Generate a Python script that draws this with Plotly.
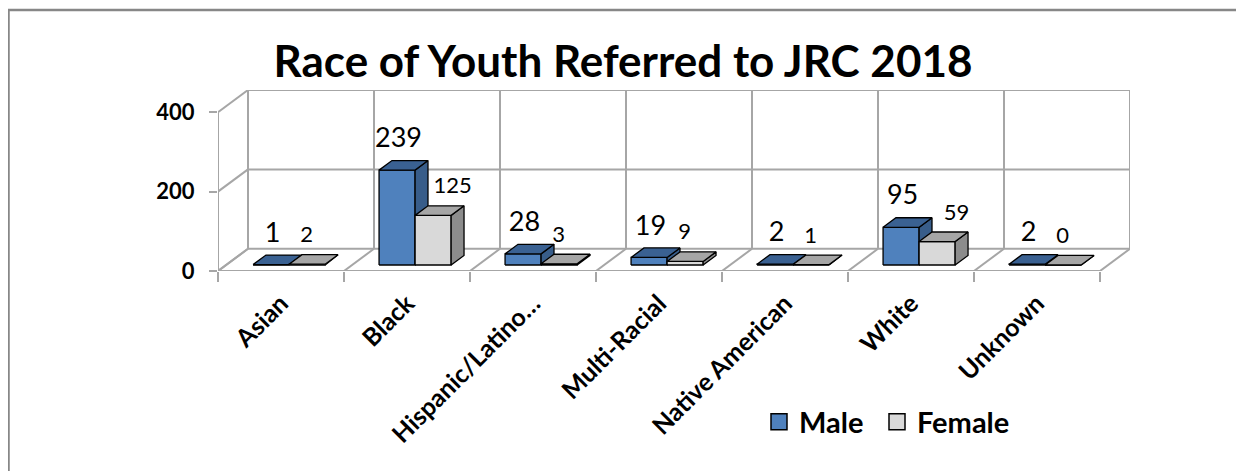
import plotly.graph_objects as go

# ---------------- data ----------------
categories = ["Asian", "Black", "Hispanic/Latino…", "Multi-Racial",
              "Native American", "White", "Unknown"]
male = [1, 239, 28, 19, 2, 95, 2]
female = [2, 125, 3, 9, 1, 59, 0]
y_ticks = [0, 200, 400]
title_text = "Race of Youth Referred to JRC 2018"

# ---------------- geometry / style ----------------
OFF = 8                        # page body margin
W, H = 1244 - OFF, 471 - OFF
PL, PR, PT, PB = 218 - OFF, 1130 - OFF, 90 - OFF, 271 - OFF
N = len(categories)
DX, DY = 0.238, 56.0          # wall depth in data units
YMAX = 400 + DY
PX_X = (PR - PL) / (N + DX)   # px per x unit
PX_Y = (PB - PT) / YMAX       # px per y unit
D0, BD = 0.27, 0.43           # bar depth start, bar depth thickness (fraction)
BW = 0.286                    # bar width (x units)

MALE_COLORS = ("#4F81BD", "#3A6192", "#385D8A")    # front, top, side
FEMALE_COLORS = ("#D9D9D9", "#A6A6A6", "#8C8C8C")
GRID = "#A6A6A6"
FONT = "Lato"


def faces(x0, x1, b, h):
    bdx, bdy = BD * DX, BD * DY
    front = [(x0, b), (x1, b), (x1, b + h), (x0, b + h)]
    top = [(x0, b + h), (x1, b + h), (x1 + bdx, b + h + bdy), (x0 + bdx, b + h + bdy)]
    side = [(x1, b), (x1 + bdx, b + bdy), (x1 + bdx, b + h + bdy), (x1, b + h)]
    return front, side, top


def poly_trace(polys, color):
    xs, ys = [], []
    for p in polys:
        for (x, y) in p + [p[0]]:
            xs.append(x)
            ys.append(y)
        xs.append(None)
        ys.append(None)
    return go.Scatter(x=xs, y=ys, mode="lines", fill="toself", fillcolor=color,
                      line=dict(color="black", width=1.3), showlegend=False,
                      hoverinfo="skip")


fig = go.Figure()

base = D0 * DY
for s, (vals, cols) in enumerate([(male, MALE_COLORS), (female, FEMALE_COLORS)]):
    fr, sd, tp = [], [], []
    for i, v in enumerate(vals):
        c = i + 0.5 + D0 * DX
        x0 = c - BW if s == 0 else c
        x1 = x0 + BW
        f, si, t = faces(x0, x1, base, v)
        fr.append(f); sd.append(si); tp.append(t)
    fig.add_trace(poly_trace(fr, cols[0]))
    fig.add_trace(poly_trace(sd, cols[2]))
    fig.add_trace(poly_trace(tp, cols[1]))

# data labels
mx, my, fx, fy = [], [], [], []
for i in range(N):
    c = i + 0.5 + D0 * DX
    top_c_m = c - BW / 2 + BD * DX / 2
    top_c_f = c + BW / 2 + BD * DX / 2
    mx.append(top_c_m - 5 / PX_X)
    my.append(base + male[i] + BD * DY + 20 / PX_Y)
    shift = 13 if male[i] > female[i] + 30 else -7
    fx.append(top_c_f + shift / PX_X)
    fy.append(base + female[i] + BD * DY + 18 / PX_Y)

fig.add_trace(go.Scatter(x=mx, y=my, mode="text", text=[str(v) for v in male],
                         textposition="middle center",
                         textfont=dict(family=FONT, size=27, color="black"),
                         showlegend=False, hoverinfo="skip", cliponaxis=False))
fig.add_trace(go.Scatter(x=fx, y=fy, mode="text", text=[str(v) for v in female],
                         textposition="middle center",
                         textfont=dict(family=FONT, size=22, color="black"),
                         showlegend=False, hoverinfo="skip", cliponaxis=False))

# legend entries
fig.add_trace(go.Scatter(x=[None], y=[None], mode="markers", name="Male",
                         legend="legend",
                         marker=dict(symbol="square", size=16, color=MALE_COLORS[0],
                                     line=dict(color="black", width=1.5))))
fig.add_trace(go.Scatter(x=[None], y=[None], mode="markers", name="Female",
                         legend="legend2",
                         marker=dict(symbol="square", size=16, color=FEMALE_COLORS[0],
                                     line=dict(color="black", width=1.5))))

# walls
shapes = []
def seg(x0, y0, x1, y1):
    shapes.append(dict(type="line", xref="x", yref="y", x0=x0, y0=y0, x1=x1, y1=y1,
                       line=dict(color=GRID, width=2), layer="below"))

for v in y_ticks:
    seg(DX, v + DY, N + DX, v + DY)
    seg(0, v, DX, v + DY)
for k in range(N + 1):
    seg(k + DX, DY, k + DX, 400 + DY)
    seg(k, 0, k + DX, DY)
seg(0, 0, N, 0)
seg(0, 0, 0, 400)

# outer border (figure pixel coords -> paper)
def px2paper_x(px):
    return (px - PL) / (PR - PL)

def px2paper_y(py):
    return (PB - py) / (PB - PT)

shapes.append(dict(type="rect", xref="paper", yref="paper",
                   x0=px2paper_x(0.5), x1=px2paper_x(1238 - OFF),
                   y0=px2paper_y(490), y1=px2paper_y(10 - OFF),
                   line=dict(color="#878787", width=2.5), fillcolor="rgba(0,0,0,0)",
                   layer="below"))

legend_style = dict(orientation="h", xref="container", yref="container",
                    xanchor="left", y=1 - (422 - OFF) / H, yanchor="middle",
                    font=dict(family=FONT, size=29, color="black", weight="bold"),
                    bgcolor="rgba(0,0,0,0)", itemwidth=30)

fig.update_layout(
    width=W, height=H,
    margin=dict(l=PL, r=W - PR, t=PT, b=H - PB, pad=0, autoexpand=False),
    paper_bgcolor="white", plot_bgcolor="white",
    shapes=shapes,
    title=dict(text=f"<b>{title_text}</b>", x=(623 - OFF) / W, xanchor="center",
               y=1 - (62 - OFF) / H, yanchor="middle", xref="container", yref="container",
               font=dict(family=FONT, size=44, color="black")),
    xaxis=dict(range=[0, N + DX], showgrid=False, zeroline=False, showline=False,
               automargin=False,
               tickmode="array", tickvals=[i + 0.5 for i in range(N)],
               ticktext=categories, tickangle=-45, ticks="",
               ticklabelstandoff=12,
               tickfont=dict(family=FONT, size=25, color="black", weight="bold"),
               minor=dict(tickmode="array", tickvals=list(range(N + 1)), ticks="outside",
                          ticklen=10, tickcolor=GRID, tickwidth=2, showgrid=False),
               fixedrange=True),
    yaxis=dict(range=[0, YMAX], showgrid=False, zeroline=False, showline=False,
               automargin=False,
               tickmode="array", tickvals=y_ticks, ticktext=[str(t) for t in y_ticks],
               ticks="outside", ticklen=8, tickcolor=GRID, tickwidth=2,
               ticklabelstandoff=10,
               tickfont=dict(family=FONT, size=22, color="black", weight="bold"),
               fixedrange=True),
    legend=dict(legend_style, x=(759 - OFF) / W),
    legend2=dict(legend_style, x=(877 - OFF) / W),
    showlegend=True,
)

fig.write_html("out.html")
